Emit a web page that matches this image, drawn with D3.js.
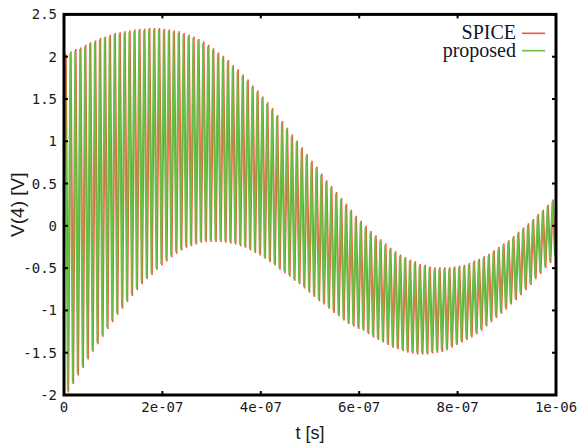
<!DOCTYPE html>
<html>
<head>
<meta charset="utf-8">
<script src="https://cdn.jsdelivr.net/npm/d3@7/dist/d3.min.js"></script>
<style>
  html, body { margin: 0; padding: 0; background: #fff; }
  svg { display: block; }
</style>
</head>
<body>
<div id="chart"></div>
<script>
var width = 579,
    height = 444;

// axis ticks
var xTicks = [0, 2e-7, 4e-7, 6e-7, 8e-7, 1e-6];
var xTickLabels = ["0", "2e-07", "4e-07", "6e-07", "8e-07", "1e-06"];
var yTicks = [-2, -1.5, -1, -0.5, 0, 0.5, 1, 1.5, 2, 2.5];
var yTickLabels = ["-2", "-1.5", "-1", "-0.5", "0", "0.5", "1", "1.5", "2", "2.5"];

var seriesNames = ["SPICE", "proposed"];
var period = 1e-8;      // one ringing cycle, 100 of them over 1 us
var spiceLag = 0.15;    // SPICE trace runs a little behind (in cycles)

// peak (hi) and trough (lo) of every cycle
var propHi = [2.01,2.04,2.07,2.09,2.12,2.15,2.17,2.20,2.22,2.24,
  2.26,2.27,2.28,2.29,2.30,2.31,2.31,2.32,2.32,2.32,
  2.31,2.30,2.29,2.28,2.26,2.24,2.22,2.19,2.16,2.12,
  2.08,2.03,1.99,1.94,1.88,1.83,1.77,1.71,1.64,1.58,
  1.51,1.44,1.37,1.29,1.22,1.14,1.06,0.99,0.91,0.83,
  0.75,0.68,0.60,0.52,0.45,0.38,0.31,0.24,0.17,0.10,
  0.04,-0.02,-0.08,-0.13,-0.18,-0.23,-0.28,-0.32,-0.36,-0.39,
  -0.42,-0.44,-0.47,-0.48,-0.50,-0.51,-0.51,-0.51,-0.51,-0.50,
  -0.49,-0.48,-0.46,-0.43,-0.41,-0.38,-0.35,-0.31,-0.27,-0.23,
  -0.19,-0.14,-0.09,-0.04,0.01,0.06,0.12,0.17,0.23,0.29];
var propLo = [-1.95,-1.85,-1.75,-1.66,-1.56,-1.47,-1.38,-1.29,-1.20,-1.12,
  -1.03,-0.96,-0.88,-0.81,-0.74,-0.67,-0.61,-0.56,-0.50,-0.45,
  -0.40,-0.35,-0.31,-0.27,-0.24,-0.22,-0.20,-0.18,-0.17,-0.17,
  -0.17,-0.17,-0.18,-0.19,-0.20,-0.22,-0.24,-0.27,-0.30,-0.33,
  -0.37,-0.41,-0.45,-0.50,-0.54,-0.58,-0.63,-0.67,-0.72,-0.77,
  -0.82,-0.87,-0.91,-0.96,-1.01,-1.05,-1.10,-1.14,-1.17,-1.20,
  -1.22,-1.26,-1.30,-1.33,-1.36,-1.39,-1.42,-1.44,-1.46,-1.48,
  -1.49,-1.50,-1.50,-1.50,-1.49,-1.48,-1.47,-1.45,-1.42,-1.39,
  -1.36,-1.33,-1.30,-1.26,-1.22,-1.17,-1.12,-1.07,-1.02,-0.97,
  -0.91,-0.86,-0.80,-0.74,-0.68,-0.61,-0.55,-0.48,-0.42,-0.35];
var spiceHi = [2.03,2.06,2.09,2.11,2.14,2.17,2.19,2.22,2.24,2.26,
  2.28,2.29,2.30,2.31,2.32,2.33,2.33,2.34,2.34,2.34,
  2.33,2.32,2.31,2.30,2.28,2.26,2.24,2.21,2.18,2.14,
  2.10,2.05,2.01,1.96,1.90,1.85,1.79,1.73,1.66,1.60,
  1.53,1.46,1.39,1.31,1.24,1.16,1.08,1.01,0.93,0.85,
  0.77,0.70,0.62,0.54,0.47,0.40,0.33,0.26,0.19,0.12,
  0.06,0.00,-0.06,-0.11,-0.16,-0.21,-0.26,-0.30,-0.34,-0.37,
  -0.40,-0.42,-0.45,-0.46,-0.48,-0.49,-0.49,-0.49,-0.49,-0.48,
  -0.47,-0.46,-0.44,-0.41,-0.39,-0.36,-0.33,-0.29,-0.25,-0.21,
  -0.17,-0.12,-0.07,-0.02,0.03,0.08,0.14,0.19,0.25,0.31];
var spiceLo = [-1.97,-1.87,-1.77,-1.68,-1.58,-1.49,-1.40,-1.31,-1.22,-1.14,
  -1.05,-0.98,-0.90,-0.83,-0.76,-0.69,-0.63,-0.58,-0.52,-0.47,
  -0.42,-0.37,-0.33,-0.29,-0.26,-0.24,-0.22,-0.20,-0.19,-0.19,
  -0.19,-0.19,-0.20,-0.21,-0.22,-0.24,-0.26,-0.29,-0.32,-0.35,
  -0.39,-0.43,-0.47,-0.52,-0.56,-0.60,-0.65,-0.69,-0.74,-0.79,
  -0.84,-0.89,-0.93,-0.98,-1.03,-1.07,-1.12,-1.16,-1.19,-1.22,
  -1.24,-1.28,-1.32,-1.35,-1.38,-1.41,-1.44,-1.46,-1.48,-1.50,
  -1.51,-1.52,-1.52,-1.52,-1.51,-1.50,-1.49,-1.47,-1.44,-1.41,
  -1.38,-1.35,-1.32,-1.28,-1.24,-1.19,-1.14,-1.09,-1.04,-0.99,
  -0.93,-0.88,-0.82,-0.76,-0.70,-0.63,-0.57,-0.50,-0.44,-0.37];

var colors = ["#f0583a", "#68c048"];

var margin = {left: 64, right: 23, top: 14.4, bottom: 49};

var svg = d3.select("#chart").append("svg")
    .attr("width", width)
    .attr("height", height)
    .style("background", "#fff");

var x = d3.scaleLinear()
    .domain([0, 1e-6])
    .range([margin.left, width - margin.right]);

var y = d3.scaleLinear()
    .domain([-2, 2.5])
    .range([height - margin.bottom, margin.top]);

svg.append("defs").append("clipPath")
    .attr("id", "plotclip")
  .append("rect")
    .attr("x", x(0))
    .attr("y", y(2.5))
    .attr("width", x(1e-6) - x(0))
    .attr("height", y(-2) - y(2.5));

// turn peak / trough lists into a zig-zag trace
function trace(hi, lo, lag) {
  var pts = [];
  hi.forEach(function(h, k) {
    pts.push([(k + 0.25 + lag) * period, h]);
    pts.push([(k + 0.75 + lag) * period, lo[k]]);
  });
  return pts;
}

var line = d3.line()
    .x(function(d) { return x(d[0]); })
    .y(function(d) { return y(d[1]); });

var plot = svg.append("g").attr("clip-path", "url(#plotclip)");

plot.append("path")
    .datum(trace(spiceHi, spiceLo, spiceLag))
    .attr("fill", "none")
    .attr("stroke", colors[0])
    .attr("stroke-width", 1.6)
    .attr("d", line);

plot.append("path")
    .datum(trace(propHi, propLo, 0))
    .attr("fill", "none")
    .attr("stroke", colors[1])
    .attr("stroke-width", 1.6)
    .attr("d", line);

// frame
svg.append("rect")
    .attr("x", x(0))
    .attr("y", y(2.5))
    .attr("width", x(1e-6) - x(0))
    .attr("height", y(-2) - y(2.5))
    .attr("fill", "none")
    .attr("stroke", "#000")
    .attr("stroke-width", 3);

// inward ticks on all four sides
var tickLen = 4;
xTicks.forEach(function(t) {
  svg.append("line")
      .attr("x1", x(t)).attr("x2", x(t))
      .attr("y1", y(-2)).attr("y2", y(-2) - tickLen)
      .attr("stroke", "#000").attr("stroke-width", 2);
  svg.append("line")
      .attr("x1", x(t)).attr("x2", x(t))
      .attr("y1", y(2.5)).attr("y2", y(2.5) + tickLen)
      .attr("stroke", "#000").attr("stroke-width", 2);
});
yTicks.forEach(function(t) {
  svg.append("line")
      .attr("x1", x(0)).attr("x2", x(0) + tickLen)
      .attr("y1", y(t)).attr("y2", y(t))
      .attr("stroke", "#000").attr("stroke-width", 2);
  svg.append("line")
      .attr("x1", x(1e-6)).attr("x2", x(1e-6) - tickLen)
      .attr("y1", y(t)).attr("y2", y(t))
      .attr("stroke", "#000").attr("stroke-width", 2);
});

// tick labels
svg.selectAll("text.xlab")
    .data(xTicks)
  .enter().append("text")
    .attr("class", "xlab")
    .attr("x", function(d) { return x(d); })
    .attr("y", y(-2) + 17)
    .attr("text-anchor", "middle")
    .style("font-family", "'DejaVu Sans Mono', monospace")
    .style("font-size", "14px")
    .style("fill", "#1a1a1a")
    .text(function(d, i) { return xTickLabels[i]; });

svg.selectAll("text.ylab")
    .data(yTicks)
  .enter().append("text")
    .attr("class", "ylab")
    .attr("x", x(0) - 7)
    .attr("y", function(d) { return y(d) + 5; })
    .attr("text-anchor", "end")
    .style("font-family", "'DejaVu Sans Mono', monospace")
    .style("font-size", "14px")
    .style("fill", "#1a1a1a")
    .text(function(d, i) { return yTickLabels[i]; });

// axis titles
svg.append("text")
    .attr("x", (x(0) + x(1e-6)) / 2)
    .attr("y", 439)
    .attr("text-anchor", "middle")
    .style("font-family", "'Liberation Sans', Arial, sans-serif")
    .style("font-size", "18px")
    .style("fill", "#1a1a1a")
    .text("t [s]");

svg.append("text")
    .attr("transform", "translate(24," + (y(0.25)) + ") rotate(-90)")
    .attr("text-anchor", "middle")
    .style("font-family", "'Liberation Sans', Arial, sans-serif")
    .style("font-size", "19px")
    .style("fill", "#1a1a1a")
    .text("V(4) [V]");

// legend
var legend = svg.append("g");
seriesNames.forEach(function(name, i) {
  var ly = 33.3 + i * 17.4;
  legend.append("text")
      .attr("x", 516)
      .attr("y", ly + 6)
      .attr("text-anchor", "end")
      .style("font-family", "'Liberation Serif', 'Times New Roman', serif")
      .style("font-size", "20px")
      .style("fill", "#14142a")
      .text(name);
  legend.append("line")
      .attr("x1", 522).attr("x2", 545)
      .attr("y1", ly).attr("y2", ly)
      .attr("stroke", colors[i])
      .attr("stroke-width", 1.6);
});
</script>
</body>
</html>
